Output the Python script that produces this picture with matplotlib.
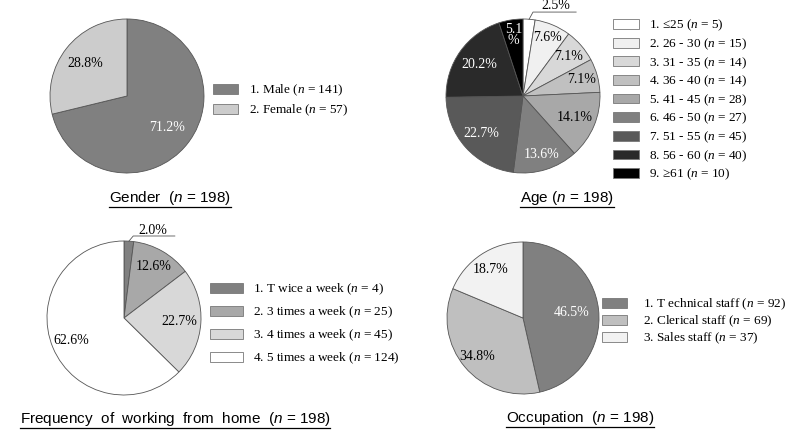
import numpy as np
import matplotlib
matplotlib.use('Agg')
import matplotlib.pyplot as plt
from matplotlib.patches import Patch
from matplotlib.lines import Line2D

plt.rcParams['font.family'] = 'Liberation Serif'
plt.rcParams['mathtext.fontset'] = 'custom'
plt.rcParams['mathtext.rm'] = 'Liberation Serif'
plt.rcParams['mathtext.it'] = 'Liberation Serif:italic'
plt.rcParams['mathtext.cal'] = 'Liberation Sans:italic'

W, H = 787, 434

# Data
gender_names = ['Male', 'Female']
gender_n = [141, 57]

age_names = ['\u226425', '26 - 30', '31 - 35', '36 - 40', '41 - 45', '46 - 50', '51 - 55', '56 - 60', '\u226561']
age_n = [5, 15, 14, 14, 28, 27, 45, 40, 10]

freq_names = ['T wice a week', '3 times a week', '4 times a week', '5 times a week']
freq_n = [4, 25, 45, 124]

occ_names = ['T echnical staff', 'Clerical staff', 'Sales staff']
occ_n = [92, 69, 37]

total_n = 198

# Styles
gender_colors = ['#808080', '#cccccc']
age_colors = ['#ffffff', '#f0f0f0', '#d8d8d8', '#c0c0c0', '#a8a8a8', '#808080', '#595959', '#2a2a2a', '#000000']
freq_colors = ['#808080', '#a8a8a8', '#d8d8d8', '#ffffff']
occ_colors = ['#808080', '#bfbfbf', '#f2f2f2']

fig = plt.figure(figsize=(W / 100, H / 100), dpi=100)


def pie_axes(cx, cy, r):
    ax = fig.add_axes([(cx - r) / W, 1 - (cy + r) / H, 2 * r / W, 2 * r / H])
    ax.set_xlim(-1, 1)
    ax.set_ylim(-1, 1)
    ax.set_aspect('equal')
    ax.axis('off')
    return ax


def draw_pie(ax, counts, colors, dists, txtcolors, skip=()):
    wedges, _ = ax.pie(counts, colors=colors, startangle=90, counterclock=False, radius=1,
                       wedgeprops=dict(edgecolor='#555555', linewidth=0.6))
    ax.set_xlim(-1, 1)
    ax.set_ylim(-1, 1)
    tot = float(sum(counts))
    cum = 0.0
    for i, c in enumerate(counts):
        mid = (cum + c / 2) / tot * 2 * np.pi
        cum += c
        if i in skip:
            continue
        pct = 100 * c / tot
        lab = '%.1f%%' % pct
        if i == len(counts) - 1 and pct < 6:
            lab = '%.1f\n%%' % pct
        d = dists[i]
        ax.text(d * np.sin(mid), d * np.cos(mid), lab, ha='center', va='center',
                fontsize=10, color=txtcolors[i], linespacing=0.8)
    return wedges


def outside_label(ax, counts, i, xe, ye, xh, xt, yt):
    tot = float(sum(counts))
    mid = (sum(counts[:i]) + counts[i] / 2) / tot * 2 * np.pi
    ax.plot([np.sin(mid), xe, xh], [np.cos(mid), ye, ye], color='#555555', lw=0.6, clip_on=False)
    ax.text(xt, yt, '%.1f%%' % (100 * counts[i] / tot), ha='center', va='center', fontsize=10)


def legend(names, counts, colors, x, y, spacing, hl, pad, fs=9.5):
    handles = [Patch(facecolor=c, edgecolor='#777777', linewidth=0.6) for c in colors]
    labels = ['%d. %s ($\\mathit{n}$ = %d)' % (k + 1, nm, n) for k, (nm, n) in enumerate(zip(names, counts))]
    fig.legend(handles, labels, loc='upper left', bbox_to_anchor=(x / W, 1 - y / H),
               frameon=False, fontsize=fs, borderpad=0, borderaxespad=0,
               labelspacing=spacing, handlelength=hl, handleheight=0.75, handletextpad=pad)


titles = []


def title(txt, cx, cy):
    t = fig.text(cx / W, 1 - cy / H, txt, ha='center', va='center', fontsize=11,
                 family='Liberation Sans')
    titles.append(t)


# Gender
ax1 = pie_axes(127, 96, 77)
draw_pie(ax1, gender_n, gender_colors, [0.66, 0.69], ['white', 'black'])
legend(gender_names, gender_n, gender_colors, 213, 83, 0.35, 1.9, 0.8)
title('Gender  ($\\mathcal{n}$ = 198)', 170, 198)

# Age
ax2 = pie_axes(523, 96, 77)
draw_pie(ax2, age_n, age_colors, [0.8, 0.83, 0.78, 0.79, 0.73, 0.8, 0.73, 0.7, 0.8],
         ['black', 'black', 'black', 'black', 'black', 'white', 'white', 'white', 'white'], skip=(0,))
outside_label(ax2, age_n, 0, 0.13, 1.09, 0.69, 0.43, 1.18)
legend(age_names, age_n, age_colors, 613, 18, 0.24, 2.0, 0.7)
title('Age ($\\mathcal{n}$ = 198)', 567, 198)

# Frequency
ax3 = pie_axes(124, 318, 77)
draw_pie(ax3, freq_n, freq_colors, [0.8, 0.77, 0.72, 0.74], ['black'] * 4, skip=(0,))
outside_label(ax3, freq_n, 0, 0.12, 1.065, 0.66, 0.38, 1.14)
legend(freq_names, freq_n, freq_colors, 210, 282, 0.57, 2.5, 0.75)
title('Frequency  of  working  from  home  ($\\mathcal{n}$ = 198)', 175, 419)

# Occupation
ax4 = pie_axes(523, 318, 76)
draw_pie(ax4, occ_n, occ_colors, [0.65, 0.78, 0.77], ['white', 'black', 'black'])
legend(occ_names, occ_n, occ_colors, 602, 297, 0.12, 1.9, 1.2, fs=9.5)
title('Occupation  ($\\mathcal{n}$ = 198)', 580, 418)

# underline titles
fig.canvas.draw()
r = fig.canvas.get_renderer()
for t in titles:
    bb = t.get_window_extent(r)
    yl = bb.y0 + 0.5
    fig.add_artist(Line2D([bb.x0 / W, bb.x1 / W], [yl / H, yl / H], color='black', lw=0.9))

fig.savefig('out.png', dpi=100)
